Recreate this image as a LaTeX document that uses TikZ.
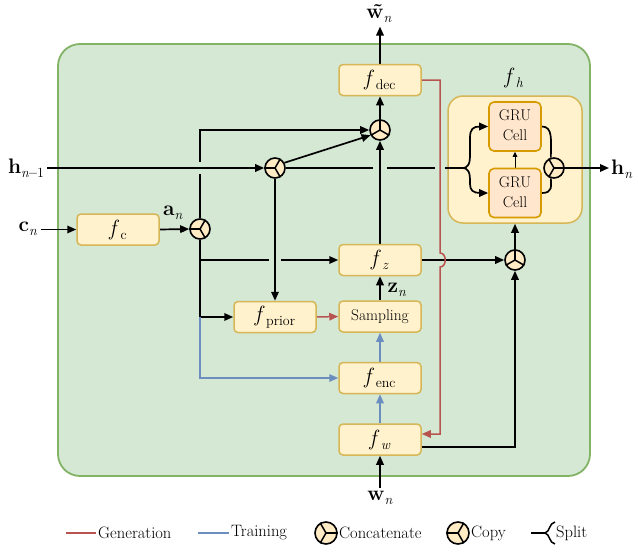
\documentclass[tikz,border=0pt]{standalone}
\usetikzlibrary{arrows.meta,calc}
\definecolor{bgG}{HTML}{D5E8D4}
\definecolor{bgGd}{HTML}{82B366}
\definecolor{yF}{HTML}{FFF2CC}
\definecolor{yD}{HTML}{D6B656}
\definecolor{oF}{HTML}{FFE6CC}
\definecolor{oD}{HTML}{D79B00}
\definecolor{gen}{HTML}{B85450}
\definecolor{trn}{HTML}{6C8EBF}
\definecolor{opF}{HTML}{FFEBC4}
\pgfdeclarelayer{bglayer}
\pgfdeclarelayer{fhlayer}
\pgfdeclarelayer{edgelayer}
\pgfsetlayers{bglayer,fhlayer,edgelayer,main}
\newcommand\subsz[1]{\raisebox{-4pt}{\fontsize{14}{16}\selectfont #1}}
\newcommand\ffun[1]{{\fontsize{22}{24}\selectfont\textit{f}}\kern1.5pt\subsz{#1}}
\newcommand\vecb[2]{{\fontsize{21}{24}\selectfont\textbf{#1}}\subsz{#2}}
\newcommand\normfont{\fontsize{15.5}{18}\selectfont}
\newcommand\grutext{{\fontsize{15.5}{20}\selectfont\begin{tabular}{@{}c@{}}GRU\\Cell\end{tabular}}}
\newcommand\legtext[1]{{\fontsize{16.5}{19}\selectfont #1}}
\tikzset{
  fbox/.style={draw=yD, fill=yF, line width=1.5pt, rounded corners=4pt, minimum width=82pt, minimum height=31pt, inner sep=0pt},
  grubox/.style={draw=oD, fill=oF, line width=1.6pt, rounded corners=5pt, minimum width=52pt, minimum height=49pt, inner sep=0pt},
  fhbox/.style={draw=yD, fill=yF, line width=1.5pt, rounded corners=15pt, minimum width=134pt, minimum height=127pt, inner sep=0pt},
  opc/.style={circle, draw=black, fill=opF, line width=1.6pt, minimum size=20pt, inner sep=0pt},
  ln/.style={line width=1.7pt, line cap=butt},
  arr/.style={ln, -{Triangle[length=9pt,width=7.5pt]}},
  genln/.style={line width=1.5pt, draw=gen},
  genarr/.style={genln, -{Triangle[length=9pt,width=7.5pt]}},
  trnln/.style={line width=1.5pt, draw=trn},
  trnarr/.style={trnln, -{Triangle[length=9pt,width=7.5pt]}},
  smallarr/.style={line width=1pt, -{Triangle[length=5pt,width=4.5pt]}},
  gappatch/.style={fill=bgG, draw=none},
  lbl/.style={anchor=west, inner sep=1pt},
}
\newcommand\opglyph[2]{%
  \foreach \a in {0,120,240}{%
    \pgfmathtruncatemacro\bb{mod(#2+\a,360)}%
    \draw[line width=1.5pt] (#1.center) -- (#1.\bb);}}
\begin{document}
\begin{tikzpicture}[x=1pt,y=-1pt]
\useasboundingbox (0,0) rectangle (638,552);
\begin{pgfonlayer}{bglayer}
  \draw[draw=bgGd, fill=bgG, line width=1.8pt, rounded corners=22pt] (58,44) rectangle (590,476);
\end{pgfonlayer}

% boxes
\node[fbox] (fc) at (118,229.5) {\ffun{c}};
\node[fbox] (fdec) at (380,80) {\ffun{dec}};
\node[fbox] (fz) at (380,260) {\ffun{\textit{z}}};
\node[fbox] (samp) at (380,316.5) {{\normfont Sampling}};
\node[fbox] (fenc) at (380,378) {\ffun{enc}};
\node[fbox] (fw) at (380,439.5) {\ffun{\textit{w}}};
\node[fbox] (fprior) at (275,317) {\ffun{prior}};

\begin{pgfonlayer}{fhlayer}
  \node[fhbox] (fh) at (515,159.5) {};
\end{pgfonlayer}
\node (fhl) at (514,78) {\ffun{\textit{h}}};
\node[grubox] (gt) at (515,126.5) {\grutext};
\node[grubox] (gb) at (515,193) {\grutext};

% operators
\node[opc] (ca) at (200,229) {};
\node[opc] (ch) at (275,168) {};
\node[opc] (cc) at (380,130) {};
\node[opc] (cz) at (515,260) {};
\node[opc] (cg) at (554,168) {};
\opglyph{ca}{180}
\opglyph{ch}{180}
\opglyph{cc}{90}
\opglyph{cz}{90}
\opglyph{cg}{0}

% labels
\node (wt) at (379,14) {\vecb{\~w}{\textit{n}}};
\node (hp) at (26,168) {\vecb{h}{\textit{n}\textbf{\textendash}1}};
\node (cn) at (28,229) {\vecb{c}{\textit{n}}};
\node (an) at (173,213) {\vecb{a}{\textit{n}}};
\node (zn) at (397,290) {\vecb{z}{\textit{n}}};
\node (wn) at (380,498) {\vecb{w}{\textit{n}}};
\node[anchor=west, inner sep=2pt] (hn) at (609,169) {\vecb{h}{\textit{n}}};
\coordinate (split) at (462,168);

\begin{pgfonlayer}{edgelayer}
  % lines that get broken at crossings
  \draw[arr] (ca.north) |- (cc.west);
  \draw[arr] (ca.south) |- (fprior.west);
  \draw[arr] (ca.south |- fz) -- (fz.west);
  \draw[ln] (ch.east) -- (split);
  \draw[arr] (fz.east) -- (cz.west);
  % gaps
  \fill[gappatch] (196.5,162) rectangle (203.5,174);
  \fill[gappatch] (269,256) rectangle (281,264);
  \fill[gappatch] (373,164) rectangle (387,172);
  \fill[gappatch] (435,164) rectangle (445,172);
  % continuous lines
  \draw[arr] (hp.east |- ch) -- (ch.west);
  \draw[arr] (ch.south) -- (fprior.north);
  \draw[arr] (fz.north) -- (cc.south);
  \draw[genarr] (fdec.east) -- (440,80) -- (440,253)
        .. controls (447,253) and (447,267) .. (440,267)
        -- (440,434) -- ([yshift=5.5pt]fw.east);
  % others
  \draw[arr] (cn.east |- fc) -- (fc.west);
  \draw[arr] (fc.east) -- (ca.west);
  \draw[arr] (ch.29) -- (cc.209);
  \draw[arr] (cc.north) -- (fdec.south);
  \draw[arr] (fdec.north) -- (fdec.north |- wt.south);
  \draw[trnarr] (ca.south |- fprior) |- (fenc.west);
  \draw[arr] (samp.north) -- (fz.south);
  \draw[genarr] (fprior.east) -- (samp.west);
  \draw[trnarr] (fenc.north) -- (samp.south);
  \draw[trnarr] (fw.north) -- (fenc.south);
  \draw[arr] (wn.north) -- (fw.south);
  \draw[arr] ([yshift=-7.5pt]fw.east) -| (cz.south);
  \draw[arr] (cz.north) -- (fh.south);
  % inside f_h
  \draw[arr] (split) .. controls (469,168) and (470,163) .. (470,154) -- (470,138)
        .. controls (470,129) and (473,126.5) .. (480,126.5) -- (gt.west);
  \draw[arr] (split) .. controls (469,168) and (470,173) .. (470,182) -- (470,184)
        .. controls (470,190) and (473,193) .. (480,193) -- (gb.west);
  \draw[smallarr] (gb.north) -- (gt.south);
  \draw[ln] (gt.east) .. controls (553,126.5) and (551,140) .. (cg.107);
  \draw[ln] (gb.east) .. controls (553,193) and (551,186) .. (cg.253);
  \draw[arr] (cg.east) -- (hn.west |- cg);
\end{pgfonlayer}

% legend
\draw[genln] (66,533) -- (96,533);
\node[lbl] (lg1) at (97,533) {\legtext{Generation}};
\draw[trnln] (198,533) -- (229,533);
\node[lbl] (lg2) at (230,533) {\legtext{Training}};
\node[opc, minimum size=22pt] (lgc) at (326,533) {};
\opglyph{lgc}{0}
\node[lbl] (lg3) at (338,533) {\legtext{Concatenate}};
\node[opc, minimum size=22pt] (lgp) at (458,533) {};
\opglyph{lgp}{180}
\node[lbl] (lg4) at (470,533) {\legtext{Copy}};
\draw[line width=1.5pt] (531,533) -- (545,533);
\draw[line width=1.5pt] (555,522) .. controls (549,523) and (550,532) .. (545,533)
      .. controls (550,534) and (549,543) .. (555,544);
\node[lbl] (lg5) at (555,533) {\legtext{Split}};
\end{tikzpicture}
\end{document}
